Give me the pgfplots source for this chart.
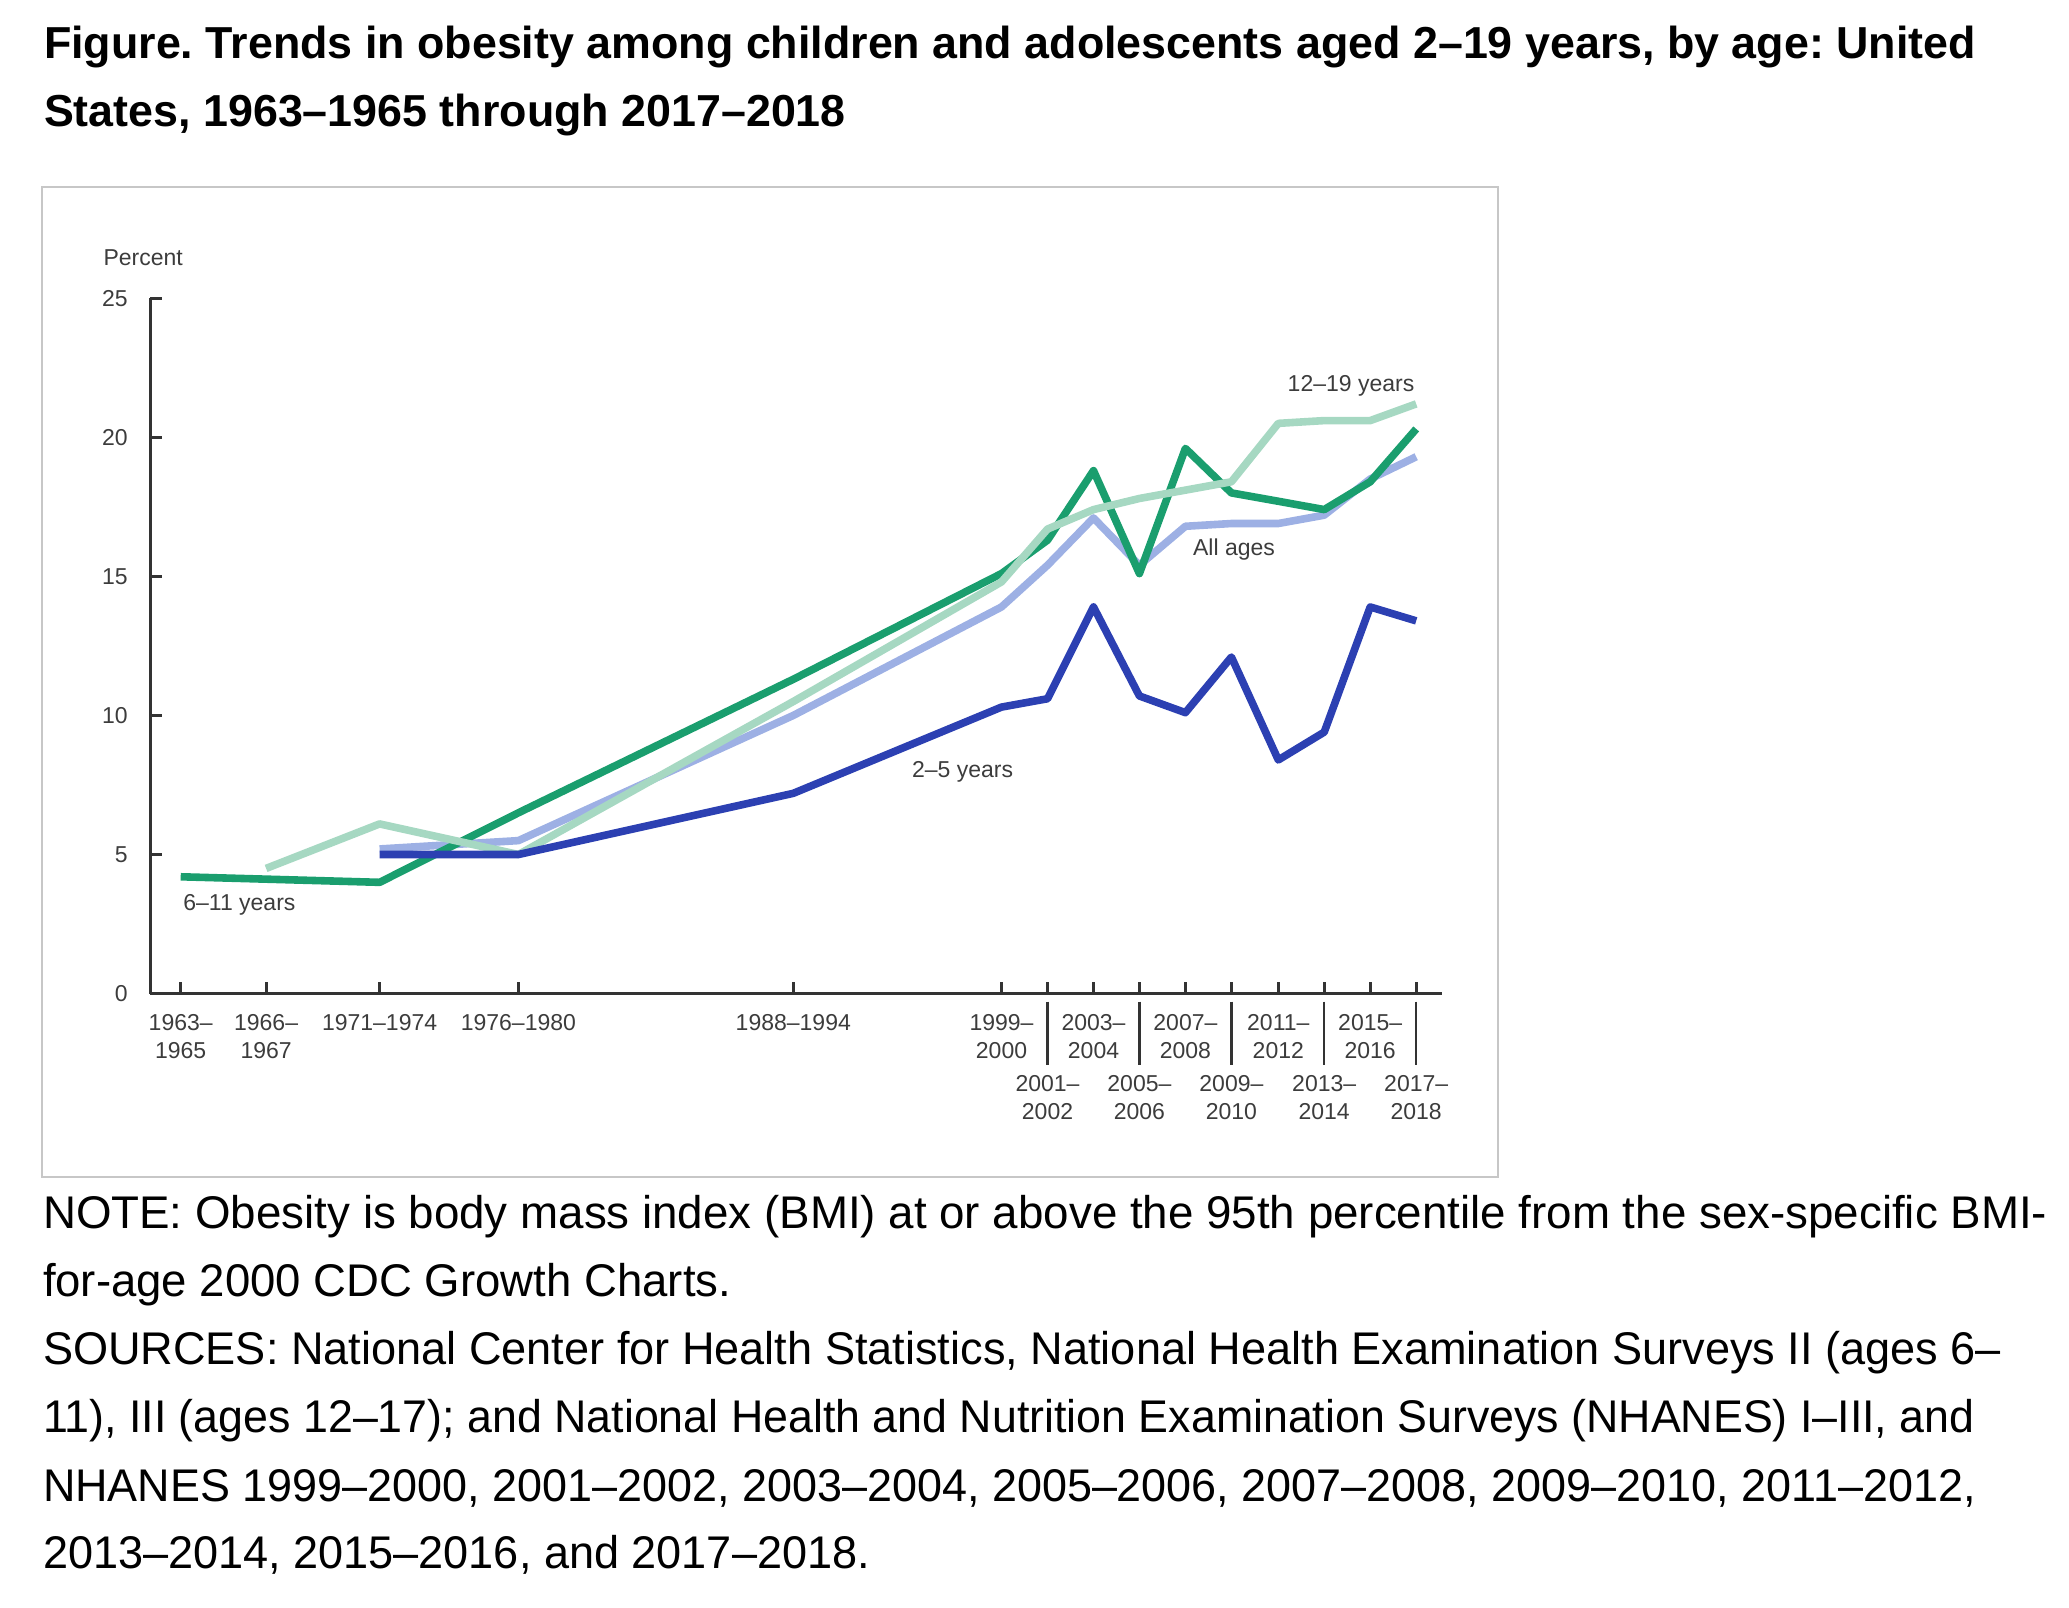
\documentclass[border=0pt]{standalone}
\usepackage{fontspec}
\setmainfont{Liberation Sans}
\usepackage{graphicx}
\usepackage{pgfplots}
\pgfplotsset{compat=1.18}
\definecolor{gA}{HTML}{1A9E6E}
\definecolor{gL}{HTML}{A6D8C2}
\definecolor{bL}{HTML}{9DB0E4}
\definecolor{bD}{HTML}{2C40B2}
\definecolor{lab}{HTML}{3C3C3C}
\newcommand{\tfont}{\fontsize{5.75}{7}\selectfont}
\newcommand{\nfont}{\fontsize{11.45}{13.7}\selectfont}
\frenchspacing
\begin{document}
\frenchspacing
\begin{tikzpicture}
\useasboundingbox (0,0) rectangle (517.25pt,402pt);
% title
\node[anchor=base west, inner sep=0, font=\fontsize{11.2}{13}\selectfont\bfseries] at (10.8pt,387.4pt) {Figure. Trends in obesity among children and adolescents aged 2–19 years, by age: United};
\node[anchor=base west, inner sep=0, font=\fontsize{11.2}{13}\selectfont\bfseries] at (10.8pt,370.3pt) {States, 1963–1965 through 2017–2018};
% frame
\draw[draw=black!22, line width=0.5pt] (10.55pt,107.75pt) rectangle (374.4pt,355.15pt);
\node[anchor=base west, inner sep=0, text=lab, font=\tfont] at (25.7pt,335.5pt) {Percent};
\begin{axis}[
  at={(37.6pt,153.6pt)}, anchor=south west,
  scale only axis, width=322.9pt, height=173.85pt,
  xmin=150.4, xmax=1442, ymin=0, ymax=25,
  axis lines=left,
  axis line style={draw=black!80, line width=0.9pt, -},
  xtick={180.7,266.1,379.6,518.4,793.3,1001.5,1093.5,1185.4,1278.3,1370.2},
  xticklabels={{1963–\\1965},{1966–\\1967},{1971–1974},{1976–1980},{1988–1994},{1999–\\2000},{2003–\\2004},{2007–\\2008},{2011–\\2012},{2015–\\2016}},
  extra x ticks={1047.5,1139.4,1231.4,1324.2,1416.2},
  extra x tick labels={{2001–\\2002},{2005–\\2006},{2009–\\2010},{2013–\\2014},{2017–\\2018}},
  extra x tick style={xticklabel style={yshift=-15.25pt}},
  ytick={0,5,10,15,20,25},
  tick align=inside, major tick length=3pt,
  tick style={draw=black!80, line width=0.8pt},
  xticklabel style={align=center, anchor=north, inner sep=0pt, yshift=-5pt, font=\tfont, text=lab},
  yticklabel style={anchor=east, inner sep=0pt, xshift=-5.5pt, font=\tfont, text=lab},
  /pgf/number format/assume math mode=true,
  clip=false,
  every axis plot/.append style={line width=1.9pt, line join=round, no markers},
]
% All ages
\addplot[bL] coordinates {(379.6,5.2)(518.4,5.5)(793.3,10.0)(1001.5,13.9)(1047.5,15.4)(1093.5,17.1)(1139.4,15.4)(1185.4,16.8)(1231.4,16.9)(1278.3,16.9)(1324.2,17.2)(1370.2,18.5)(1416.2,19.3)};
% 6-11 years
\addplot[gA] coordinates {(180.7,4.2)(379.6,4.0)(518.4,6.5)(793.3,11.3)(1001.5,15.1)(1047.5,16.3)(1093.5,18.8)(1139.4,15.1)(1185.4,19.6)(1231.4,18.0)(1278.3,17.7)(1324.2,17.4)(1370.2,18.4)(1416.2,20.3)};
% 12-19 years
\addplot[gL] coordinates {(266.1,4.5)(379.6,6.1)(518.4,5.0)(793.3,10.5)(1001.5,14.8)(1047.5,16.7)(1093.5,17.4)(1139.4,17.8)(1185.4,18.1)(1231.4,18.4)(1278.3,20.5)(1324.2,20.6)(1370.2,20.6)(1416.2,21.2)};
% 2-5 years
\addplot[bD] coordinates {(379.6,5.0)(518.4,5.0)(793.3,7.2)(1001.5,10.3)(1047.5,10.6)(1093.5,13.9)(1139.4,10.7)(1185.4,10.1)(1231.4,12.1)(1278.3,8.4)(1324.2,9.4)(1370.2,13.9)(1416.2,13.4)};
% series labels
\node[font=\tfont, text=lab, inner sep=0] at (axis cs:1351,21.85) {12–19 years};
\node[font=\tfont, text=lab, inner sep=0] at (axis cs:1234,15.97) {All ages};
\node[font=\tfont, text=lab, inner sep=0] at (axis cs:962.6,7.98) {2–5 years};
\node[font=\tfont, text=lab, inner sep=0] at (axis cs:239.4,3.2) {6–11 years};
% separators between label rows
\draw[black!80, line width=0.6pt] ([yshift=-2pt]axis cs:1047.5,0) -- ([yshift=-17.85pt]axis cs:1047.5,0);
\draw[black!80, line width=0.6pt] ([yshift=-2pt]axis cs:1139.4,0) -- ([yshift=-17.85pt]axis cs:1139.4,0);
\draw[black!80, line width=0.6pt] ([yshift=-2pt]axis cs:1231.4,0) -- ([yshift=-17.85pt]axis cs:1231.4,0);
\draw[black!80, line width=0.6pt] ([yshift=-2pt]axis cs:1324.2,0) -- ([yshift=-17.85pt]axis cs:1324.2,0);
\draw[black!80, line width=0.6pt] ([yshift=-2pt]axis cs:1416.2,0) -- ([yshift=-17.85pt]axis cs:1416.2,0);
\end{axis}
% notes
\node[anchor=base west, inner sep=0, font=\nfont] at (10.55pt,94.75pt) {\scalebox{0.998}[1]{NOTE: Obesity is body mass index (BMI) at or above the 95th percentile from the sex-specific BMI-}};
\node[anchor=base west, inner sep=0, font=\nfont] at (10.55pt,77.75pt) {\scalebox{0.994}[1]{for-age 2000 CDC Growth Charts.}};
\node[anchor=base west, inner sep=0, font=\nfont] at (10.55pt,60.75pt) {\scalebox{0.985}[1]{SOURCES: National Center for Health Statistics, National Health Examination Surveys II (ages 6–}};
\node[anchor=base west, inner sep=0, font=\nfont] at (10.55pt,43.75pt) {\scalebox{0.977}[1]{11), III (ages 12–17); and National Health and Nutrition Examination Surveys (NHANES) I–III, and}};
\node[anchor=base west, inner sep=0, font=\nfont] at (10.55pt,26.75pt) {\scalebox{0.981}[1]{NHANES 1999–2000, 2001–2002, 2003–2004, 2005–2006, 2007–2008, 2009–2010, 2011–2012,}};
\node[anchor=base west, inner sep=0, font=\nfont] at (10.55pt,9.75pt) {\scalebox{0.984}[1]{2013–2014, 2015–2016, and 2017–2018.}};
\end{tikzpicture}
\end{document}
